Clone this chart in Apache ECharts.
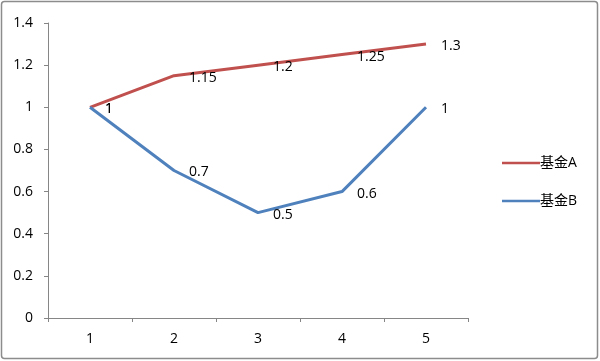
<!DOCTYPE html>
<html><head><meta charset="utf-8">
<script src="https://cdn.jsdelivr.net/npm/echarts@6/dist/echarts.min.js"></script>
<style>html,body{margin:0;padding:0;background:#fff}#c{width:600px;height:361px}</style>
</head><body><div id="c"></div>
<script>
const categories = ['1','2','3','4','5'];
const seriesAName = '基金A';
const seriesBName = '基金B';
const seriesA = [1, 1.15, 1.2, 1.25, 1.3];
const seriesB = [1, 0.7, 0.5, 0.6, 1];
const yTicks = {min: 0, max: 1.4, interval: 0.2};

const chart = echarts.init(document.getElementById('c'), null, {renderer: 'canvas'});
const font = '"Open Sans", "Noto Sans CJK SC", sans-serif';
const lbl = {show: true, position: 'right', offset: [10, 2], color: '#000', fontSize: 14, fontFamily: font, distance: 5};
chart.setOption({
  animation: false,
  graphic: [{type: 'rect', shape: {x: 1.5, y: 1.5, width: 596, height: 357, r: 3}, style: {fill: 'none', stroke: '#8c8c8c', lineWidth: 1.5}, silent: true}],
  grid: {left: 48, right: 132, top: 23, bottom: 43},
  legend: {
    orient: 'vertical', left: 497, top: 151, itemGap: 24, itemWidth: 38, itemHeight: 16,
    textStyle: {fontSize: 14, color: '#000', fontFamily: font, padding: [0, 0, 0, -5]},
    data: [{name: seriesAName, icon: 'path://M0,7 L38,7 L38,9.5 L0,9.5 Z'}, {name: seriesBName, icon: 'path://M0,7 L38,7 L38,9.5 L0,9.5 Z'}]
  },
  xAxis: {
    type: 'category', data: categories, boundaryGap: true,
    axisLine: {lineStyle: {color: '#868686', width: 1}},
    axisTick: {show: true, length: 4, lineStyle: {color: '#868686'}},
    axisLabel: {color: '#000', fontSize: 14, fontFamily: font, margin: 14},
    splitLine: {show: false}
  },
  yAxis: {
    type: 'value', min: yTicks.min, max: yTicks.max, interval: yTicks.interval,
    axisLine: {show: true, lineStyle: {color: '#868686', width: 1}},
    axisTick: {show: true, length: 4, lineStyle: {color: '#868686'}},
    axisLabel: {color: '#000', fontSize: 14, fontFamily: font, margin: 15, formatter: v => String(+v.toFixed(1))},
    splitLine: {show: false}
  },
  series: [
    {name: seriesAName, type: 'line', data: seriesA, symbol: 'circle', symbolSize: 0, showSymbol: true, lineStyle: {color: '#C0504D', width: 3}, itemStyle: {color: '#C0504D'}, label: lbl},
    {name: seriesBName, type: 'line', data: seriesB, symbol: 'circle', symbolSize: 0, showSymbol: true, lineStyle: {color: '#4F81BD', width: 3}, itemStyle: {color: '#4F81BD'}, label: lbl}
  ]
});
</script></body></html>
